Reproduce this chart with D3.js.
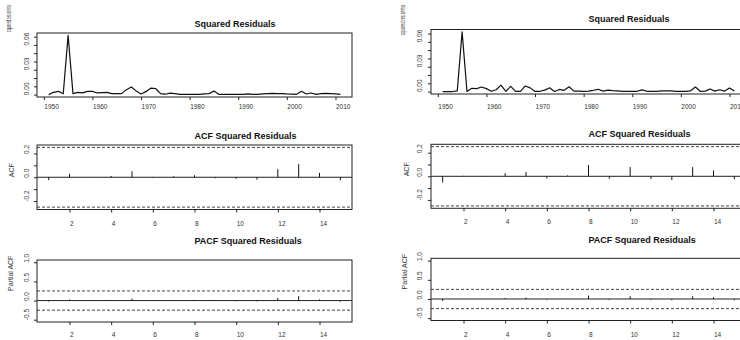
<!DOCTYPE html>
<html><head><meta charset="utf-8">
<script src="https://cdn.jsdelivr.net/npm/d3@7"></script>
<style>
body{margin:0;background:#fff}
svg{display:block}
text{font-family:"Liberation Sans",Arial,Helvetica,sans-serif}
</style>
</head><body>
<svg id="c" width="740" height="340"></svg>
<script>
// ---------------- data ----------------
const years = d3.range(1951, 2012); // 61 annual observations
const sqResLeft = [
  0.0000,0.0028,0.0040,0.0010,0.0715,0.0012,0.0028,0.0022,0.0040,0.0040,
  0.0020,0.0025,0.0028,0.0012,0.0012,0.0012,0.0060,0.0093,0.0045,0.0008,
  0.0036,0.0078,0.0074,0.0012,0.0005,0.0018,0.0012,0.0002,0.0002,0.0002,
  0.0002,0.0004,0.0008,0.0012,0.0045,0.0004,0.0002,0.0002,0.0002,0.0002,
  0.0004,0.0008,0.0004,0.0004,0.0008,0.0012,0.0016,0.0012,0.0012,0.0008,
  0.0006,0.0004,0.0040,0.0008,0.0020,0.0004,0.0012,0.0016,0.0012,0.0008,
  0.0004];
const sqResRight = [
  0.0000,0.0000,0.0001,0.0008,0.0720,0.0002,0.0040,0.0036,0.0056,0.0036,
  0.0004,0.0022,0.0078,0.0002,0.0064,0.0002,0.0002,0.0068,0.0045,0.0002,
  0.0004,0.0018,0.0046,0.0002,0.0026,0.0016,0.0058,0.0006,0.0006,0.0004,
  0.0006,0.0016,0.0028,0.0006,0.0018,0.0012,0.0008,0.0004,0.0002,0.0002,
  0.0004,0.0020,0.0004,0.0002,0.0004,0.0008,0.0008,0.0008,0.0004,0.0002,
  0.0002,0.0010,0.0055,0.0002,0.0006,0.0032,0.0006,0.0022,0.0006,0.0044,
  0.0006];
const lags = d3.range(1, 16);
const acfLeft  = [-0.024,0.028,-0.004,0.010,0.050,-0.006,0.008,0.017,-0.008,-0.014,-0.020,0.068,0.110,0.037,-0.025];
const acfRight = [-0.052,0.004,0.003,0.026,0.037,-0.017,0.008,0.095,-0.020,0.078,-0.023,-0.032,0.078,0.049,-0.026];
const pacfLeft  = [-0.024,0.028,-0.004,0.010,0.050,-0.008,0.006,0.018,-0.010,-0.016,-0.020,0.070,0.115,0.030,-0.028];
const pacfRight = [-0.052,0.002,0.003,0.025,0.038,-0.018,0.006,0.090,-0.018,0.072,-0.022,-0.030,0.072,0.046,-0.030];
const nObs = 61;

const yearTicks = [1950,1960,1970,1980,1990,2000,2010];
const resTicks = [0,0.01,0.02,0.03,0.04,0.05,0.06,0.07];
const resLabelTicks = [0,0.03,0.06];
const lagTicks = [2,4,6,8,10,12,14];
const acfTicks = [-0.2,-0.1,0,0.1,0.2];
const acfLabelTicks = [-0.2,0,0.2];
const pacfTicks = [-0.5,0,0.5,1];
const pacfLabelTicks = [-0.5,0,0.5,1];

const titles = ["Squared Residuals","ACF Squared Residuals","PACF Squared Residuals"];
const ylabs = ["squared.res.arima","ACF","Partial ACF"];

// ---------------- layout ----------------
const svg = d3.select("#c");
const cols = [
  {x0:37, x1:352, tickLabX:-8.5, ylabX:10.5,
   rows:[{y0:33,y1:97,titleY:26.5,xlabY:109},{y0:145,y1:209.5,titleY:139,xlabY:225.5},{y0:260,y1:322,titleY:244,xlabY:337}],
   ts:sqResLeft, acf:acfLeft, pacf:pacfLeft, ylab0:{y:32,len:27}},
  {x0:431, x1:746, tickLabX:-9.5, ylabX:405,
   rows:[{y0:29.5,y1:94,titleY:21.5,xlabY:109},{y0:144.3,y1:208.3,titleY:137.3,xlabY:224.5},{y0:258.3,y1:320.5,titleY:243.3,xlabY:337}],
   ts:sqResRight, acf:acfRight, pacf:pacfRight, ylab0:{y:35,len:30}}
];

const ext = (lo, hi) => { const d = (hi - lo) * 0.04; return [lo - d, hi + d]; };
const clim = 1.96 / Math.sqrt(nObs);
const fmt2 = d3.format(".2f"), fmt1 = d3.format(".1f"), fmtYear = d3.format("d");
const TXT = "#333";

function yAxis(g, y, ticks, labelTicks, fmt, labX){
  const ax = d3.axisLeft(y).tickValues(ticks).tickSize(3).tickSizeOuter(0)
    .tickFormat(d => labelTicks.includes(d) ? fmt(d).replace("\u2212", "-") : "");
  g.call(ax);
  g.select(".domain").remove();
  g.selectAll("line").attr("stroke","#222");
  g.selectAll("text")
    .attr("x", null).attr("dy", null)
    .attr("text-anchor","start")
    .attr("transform", `translate(${labX},0) rotate(-90)`)
    .attr("fill", TXT).style("font-size","6.5px");
}
function xAxis(g, x, ticks, labDy, fmt){
  const ax = d3.axisBottom(x).tickValues(ticks).tickSize(3).tickSizeOuter(0).tickFormat(fmt);
  g.call(ax);
  g.select(".domain").remove();
  g.selectAll("line").attr("stroke","#222");
  g.selectAll("text").attr("y", labDy).attr("dy", null)
    .attr("text-anchor","start").attr("fill", TXT).style("font-size","6.5px");
}

cols.forEach(c => {
  c.rows.forEach((r, i) => {
    const g = svg.append("g");
    const box = {x:c.x0, y:r.y0, w:c.x1 - c.x0, h:r.y1 - r.y0};
    let x, y;
    if (i === 0) {
      x = d3.scaleLinear().domain(ext(d3.min(years), d3.max(years))).range([c.x0, c.x1]);
      y = d3.scaleLinear().domain(ext(d3.min(c.ts), d3.max(c.ts))).range([r.y1, r.y0]);
    } else {
      x = d3.scaleLinear().domain(ext(1, 15)).range([c.x0, c.x1]);
      const vals = i === 1 ? c.acf : c.pacf;
      const yd = i === 1 ? ext(Math.min(-clim, d3.min(vals)), Math.max(clim, d3.max(vals))) : ext(-0.5, 1);
      y = d3.scaleLinear().domain(yd).range([r.y1, r.y0]);
    }
    if (i === 0) {
      g.append("path").datum(years.map((yr, k) => [yr, c.ts[k]]))
        .attr("d", d3.line().x(d => x(d[0])).y(d => y(d[1])))
        .attr("fill","none").attr("stroke","#111").attr("stroke-width",1.2).attr("stroke-linejoin","round");
    } else {
      const vals = i === 1 ? c.acf : c.pacf;
      [clim, -clim].forEach(v => {
        g.append("line").attr("x1", box.x).attr("x2", box.x + box.w)
          .attr("y1", y(v)).attr("y2", y(v))
          .attr("stroke","#444").attr("stroke-width",1).attr("stroke-dasharray","3,2");
      });
      g.append("line").attr("x1", box.x).attr("x2", box.x + box.w)
        .attr("y1", y(0)).attr("y2", y(0)).attr("stroke","#222").attr("stroke-width",1);
      g.selectAll(".spike").data(lags.map((l, k) => [l, vals[k]])).join("line")
        .attr("x1", d => x(d[0])).attr("x2", d => x(d[0]))
        .attr("y1", y(0)).attr("y2", d => y(d[1]))
        .attr("stroke","#111").attr("stroke-width",1);
    }
    g.append("rect").attr("x", box.x).attr("y", box.y).attr("width", box.w).attr("height", box.h)
      .attr("fill","none").attr("stroke","#222").attr("stroke-width",1);
    const gx = g.append("g").attr("transform", `translate(0,${r.y1})`);
    xAxis(gx, x, i === 0 ? yearTicks : lagTicks, r.xlabY - r.y1, i === 0 ? fmtYear : d3.format("d"));
    const gy = g.append("g").attr("transform", `translate(${c.x0},0)`);
    if (i === 0) yAxis(gy, y, resTicks, resLabelTicks, fmt2, c.tickLabX);
    else if (i === 1) yAxis(gy, y, acfTicks, acfLabelTicks, fmt1, c.tickLabX);
    else yAxis(gy, y, pacfTicks, pacfLabelTicks, fmt1, c.tickLabX);
    g.append("text").attr("x", (c.x0 + c.x1) / 2).attr("y", r.titleY)
      .attr("text-anchor","start").attr("fill","#111")
      .style("font-size","9px").style("font-weight","bold").text(titles[i]);
    const yl = g.append("text").attr("text-anchor","start").attr("fill", TXT)
      .style("font-size","7px").text(ylabs[i]);
    if (i === 0) {
      yl.attr("transform", `translate(${c.ylabX},${c.ylab0.y}) rotate(-90)`)
        .attr("textLength", c.ylab0.len).attr("lengthAdjust","spacingAndGlyphs");
    } else {
      yl.attr("transform", `translate(${c.ylabX + (i === 1 ? 3.5 : 2)},${(r.y0 + r.y1) / 2}) rotate(-90)`);
    }
  });
});
</script>
</body></html>
